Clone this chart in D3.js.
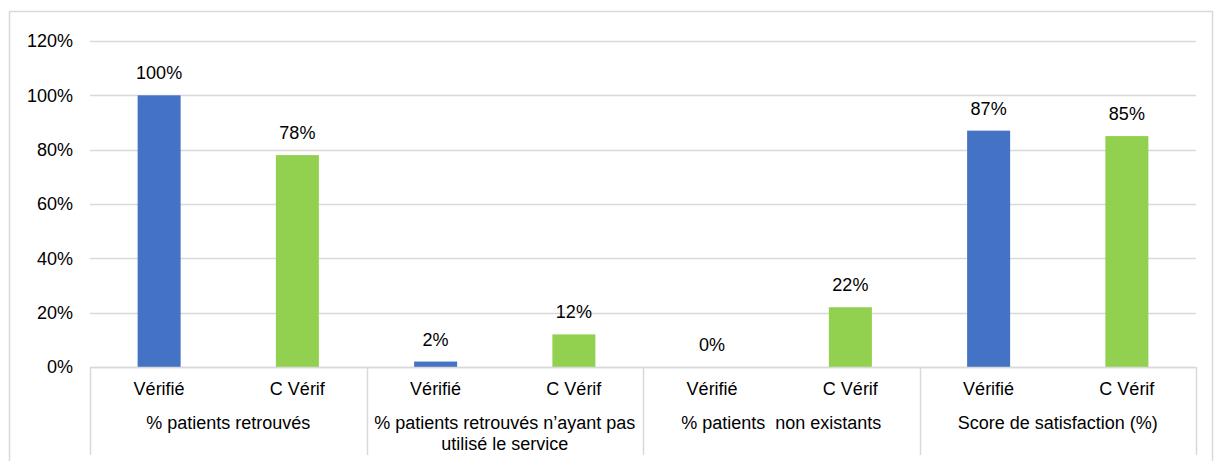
<html>
<head>
<style>
  body { margin: 0; background: #fff; }
  svg text { font-family: "Liberation Sans", Arial, sans-serif; fill: #000; }
</style>
</head>
<body>
<svg id="chart"></svg>
<script src="https://d3js.org/d3.v7.min.js"></script>
<script>
var groups = ["% patients retrouvés", "% patients retrouvés n\u2019ayant pas utilisé le service", "% patients  non existants", "Score de satisfaction (%)"];
var groupLines = [["% patients retrouvés"], ["% patients retrouvés n\u2019ayant pas", "utilisé le service"], ["% patients\u00a0 non existants"], ["Score de satisfaction (%)"]];
var series = ["Vérifié", "C Vérif"];
var verifie = [100, 2, 0, 87];
var cVerif = [78, 12, 22, 85];
var yTicks = [0, 20, 40, 60, 80, 100, 120];

var W = 1215, H = 461;
var mLeft = 90, mRight = 1196, mTop = 41, mBottom = 367;
var fs = "18px";
var colors = {"Vérifié": "#4472C4", "C Vérif": "#92D050"};

var svg = d3.select("#chart").attr("width", W).attr("height", H);

// outer frame
svg.append("rect").attr("x", 9.5).attr("y", 11.5).attr("width", 1203).attr("height", 460)
  .attr("fill", "none").attr("stroke", "#d9d9d9").attr("stroke-width", 1.5);

var x0 = d3.scaleBand().domain(groups).range([mLeft, mRight]);
var x1 = d3.scaleBand().domain(series).range([0, x0.bandwidth()]);
var y = d3.scaleLinear().domain([0, 120]).range([mBottom, mTop]);

// grid
svg.append("g").selectAll("line").data(yTicks).enter().append("line")
  .attr("x1", mLeft).attr("x2", mRight)
  .attr("y1", function(d){ return Math.round(y(d)) + 0.5; })
  .attr("y2", function(d){ return Math.round(y(d)) + 0.5; })
  .attr("stroke", "#d9d9d9").attr("stroke-width", 1.5);

// y labels
svg.append("g").selectAll("text").data(yTicks).enter().append("text")
  .attr("x", 73).attr("y", function(d){ return y(d); })
  .attr("dy", "0.35em").attr("text-anchor", "end")
  .style("font-size", fs)
  .text(function(d){ return d + "%"; });

var rows = groups.map(function(g, i){
  return {group: g, lines: groupLines[i], vals: [{s: "Vérifié", v: verifie[i]}, {s: "C Vérif", v: cVerif[i]}]};
});

var bw = 43;
var g = svg.selectAll(".grp").data(rows).enter().append("g")
  .attr("transform", function(d){ return "translate(" + x0(d.group) + ",0)"; });

g.selectAll("rect").data(function(d){ return d.vals; }).enter().append("rect")
  .attr("x", function(d){ return x1(d.s) + x1.bandwidth() / 2 - bw / 2; })
  .attr("width", bw)
  .attr("y", function(d){ return y(d.v); })
  .attr("height", function(d){ return mBottom - y(d.v); })
  .attr("fill", function(d){ return colors[d.s]; });

g.selectAll(".val").data(function(d){ return d.vals; }).enter().append("text")
  .attr("x", function(d){ return x1(d.s) + x1.bandwidth() / 2; })
  .attr("y", function(d){ return y(d.v) - 16; })
  .attr("text-anchor", "middle").style("font-size", fs)
  .text(function(d){ return d.v + "%"; });

g.selectAll(".cat").data(function(d){ return d.vals; }).enter().append("text")
  .attr("x", function(d){ return x1(d.s) + x1.bandwidth() / 2; })
  .attr("y", 395).attr("text-anchor", "middle").style("font-size", fs)
  .text(function(d){ return d.s; });

g.each(function(d){
  var t = d3.select(this).append("text")
    .attr("text-anchor", "middle").style("font-size", fs)
    .attr("y", 429);
  d.lines.forEach(function(l, k){
    t.append("tspan").attr("x", x0.bandwidth() / 2).attr("dy", k === 0 ? 0 : 21).text(l);
  });
});

// baseline and category separators
svg.append("line").attr("x1", mLeft).attr("x2", mRight).attr("y1", mBottom + 0.5).attr("y2", mBottom + 0.5)
  .attr("stroke", "#d9d9d9").attr("stroke-width", 1.5);
var seps = groups.map(function(gr){ return x0(gr); }).concat([mRight]);
svg.append("g").selectAll("line").data(seps).enter().append("line")
  .attr("x1", function(d){ return Math.round(d) + 0.5; })
  .attr("x2", function(d){ return Math.round(d) + 0.5; })
  .attr("y1", mBottom).attr("y2", 455)
  .attr("stroke", "#d9d9d9").attr("stroke-width", 1.5);
</script>
</body>
</html>
